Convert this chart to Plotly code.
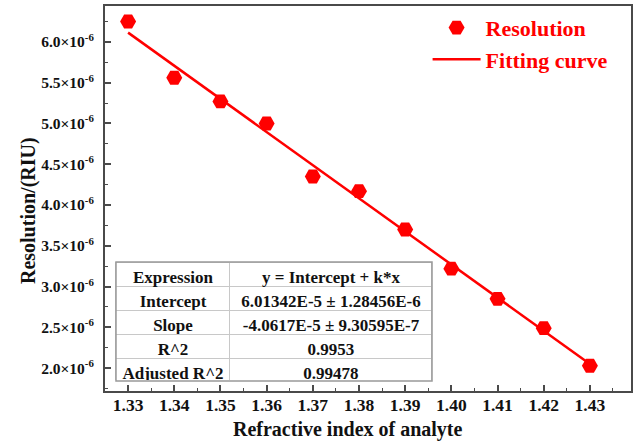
import plotly.graph_objects as go

# Measured resolution versus refractive index of the analyte
refractive_index = [1.33, 1.34, 1.35, 1.36, 1.37, 1.38, 1.39, 1.40, 1.41, 1.42, 1.43]
resolution = [6.25e-6, 5.56e-6, 5.27e-6, 5.00e-6, 4.35e-6, 4.17e-6,
              3.70e-6, 3.22e-6, 2.85e-6, 2.49e-6, 2.03e-6]

# Linear fit parameters (y = Intercept + k*x)
intercept = 6.01342e-5
slope = -4.0617e-5
fit_x = [1.33, 1.43]
fit_y = [intercept + slope * x for x in fit_x]

# Fit summary table (non-breaking spaces keep each entry on one line)
table_header = ["Expression", "y = Intercept + k*x"]
table_names = ["Intercept", "Slope", "R^2", "Adjusted\u00a0R^2"]
table_values = ["6.01342E-5\u00a0\u00b1\u00a01.28456E-6",
                "-4.0617E-5\u00a0\u00b1\u00a09.30595E-7",
                "0.9953", "0.99478"]

# Axis ticks
x_ticks = [1.33, 1.34, 1.35, 1.36, 1.37, 1.38, 1.39, 1.40, 1.41, 1.42, 1.43]
x_tick_text = ["1.33", "1.34", "1.35", "1.36", "1.37", "1.38", "1.39", "1.40",
               "1.41", "1.42", "1.43"]
y_ticks = [2.0e-6, 2.5e-6, 3.0e-6, 3.5e-6, 4.0e-6, 4.5e-6, 5.0e-6, 5.5e-6, 6.0e-6]
y_tick_text = ["%.1f\u00d710<sup>-6</sup>" % (v * 1e6) for v in y_ticks]

RED = "#ff0000"
FONT = "Liberation Serif, Times New Roman, serif"
AXIS = "#4a4a4a"
INK = "#111111"

fig = go.Figure()

fig.add_trace(go.Scatter(
    x=refractive_index, y=resolution, mode="markers", name="Resolution",
    marker=dict(symbol="hexagon2", size=16, color=RED, line=dict(width=0)),
    legendgroup="a",
))
fig.add_trace(go.Scatter(
    x=fit_x, y=fit_y, mode="lines", name="Fitting curve",
    line=dict(color=RED, width=2.5), legendgroup="b",
))

table_font = dict(family=FONT, size=17, color=INK, weight="bold")
fig.add_trace(go.Table(
    domain=dict(x=[0.0209, 0.6217], y=[0.026, 0.335]),
    columnwidth=[114, 202],
    header=dict(
        values=table_header, align="center", height=24,
        fill=dict(color="white"), line=dict(color="#c8c8c8", width=1),
        font=table_font,
    ),
    cells=dict(
        values=[table_names, table_values], align="center", height=24,
        fill=dict(color="white"), line=dict(color="#c8c8c8", width=1),
        font=table_font,
    ),
))

# Outer border of the table
fig.add_shape(type="rect", xref="paper", yref="paper",
              x0=0.0209, x1=0.6217, y0=0.026, y1=0.335,
              line=dict(color="#999999", width=1.5), layer="above")

axis_common = dict(
    showgrid=False, zeroline=False, showline=True, mirror=True,
    linecolor=AXIS, linewidth=2, ticks="inside", ticklen=6, tickwidth=1.5,
    tickcolor=AXIS,
)

fig.update_xaxes(
    range=[1.325, 1.4389], tickmode="array", tickvals=x_ticks,
    ticktext=x_tick_text, ticklabelstandoff=-3,
    tickfont=dict(family=FONT, size=17.5, color=INK, weight="bold"),
    minor=dict(ticks="inside", ticklen=3, tickwidth=1.2, tickcolor=AXIS,
               dtick=0.005, tick0=1.325),
    **axis_common,
)
fig.update_yaxes(
    range=[1.72e-6, 6.44e-6], tickmode="array", tickvals=y_ticks,
    ticktext=y_tick_text, ticklabelstandoff=6,
    tickfont=dict(family=FONT, size=15.5, color=INK, weight="bold"),
    minor=dict(ticks="inside", ticklen=3, tickwidth=1.2, tickcolor=AXIS,
               dtick=0.25e-6, tick0=0),
    **axis_common,
)

title_font = dict(family=FONT, size=20, color=INK, weight="bold")
fig.add_annotation(
    text="Resolution/(RIU)", xref="paper", yref="paper", x=-0.1464, y=0.47,
    xanchor="center", yanchor="middle", textangle=-90, showarrow=False,
    font=title_font,
)
fig.add_annotation(
    text="Refractive index of analyte", xref="paper", yref="paper",
    x=0.462, y=-0.1, xanchor="center", yanchor="middle", showarrow=False,
    font=title_font,
)

fig.update_layout(
    width=638, height=441,
    margin=dict(l=105, r=7, t=6, b=50, autoexpand=False),
    paper_bgcolor="white", plot_bgcolor="white",
    showlegend=True,
    legend=dict(
        x=0.965, y=0.998, xanchor="right", yanchor="top",
        bgcolor="rgba(0,0,0,0)", itemwidth=48, tracegroupgap=0,
        font=dict(family=FONT, size=22, color=RED, weight="bold"),
    ),
)

fig.write_html("out.html")
